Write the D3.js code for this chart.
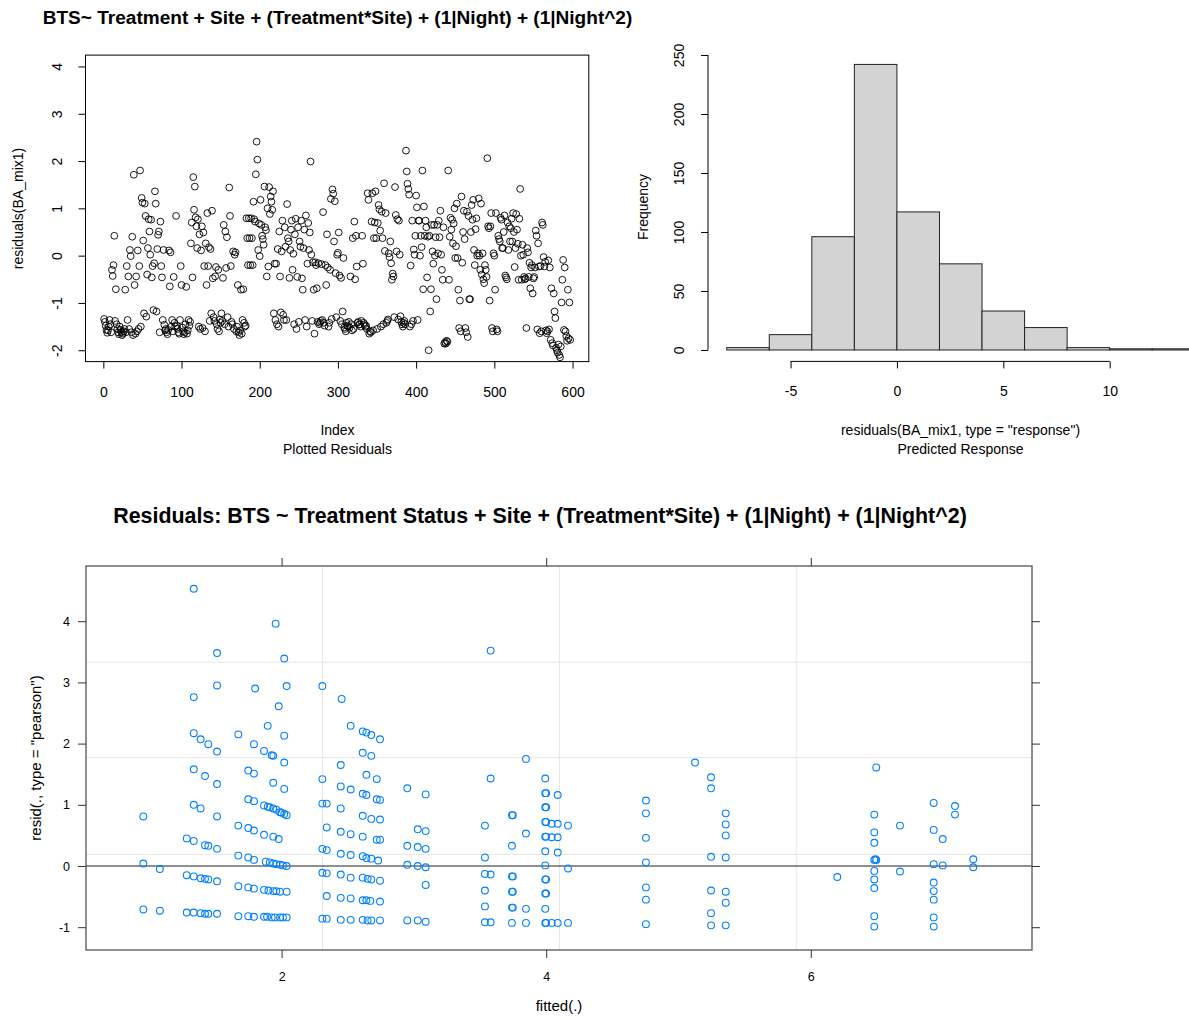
<!DOCTYPE html>
<html><head><meta charset="utf-8">
<script src="https://cdn.jsdelivr.net/npm/d3@7"></script>
<style>
body{margin:0;background:#fff}
svg{display:block}
text{font-family:"Liberation Sans",Arial,sans-serif;fill:#000}
</style>
</head><body>
<svg id="c" width="1189" height="1019"></svg>
<script>
// ---------- DATA ----------
const indexResiduals = [
-1.34,-1.4,-1.48,-1.57,-1.63,-1.58,-1.5,-1.36,-1.45,-1.62,
-0.3,-0.43,-0.2,0.42,-1.38,-0.71,-1.45,-1.55,-1.62,-1.66,
-1.5,-1.57,-1.62,-1.68,-1.65,-1.6,-1.55,-0.72,-1.62,-0.22,
-1.36,-0.44,-1.55,0.12,-0.01,-1.62,0.40,-1.68,1.71,-0.62,
-1.65,-0.44,-1.6,0.11,-1.55,-0.22,1.80,-1.5,1.22,1.12,
0.32,-1.22,1.10,0.84,-1.29,-0.40,0.16,0.77,0.51,0.02,
0.76,-0.46,-0.22,-1.15,-0.16,1.36,1.10,-1.18,0.14,0.44,
0.51,-1.62,0.72,-0.22,-0.46,-1.36,0.12,-1.46,-1.58,-1.55,
-1.62,-1.66,-1.57,0.11,-0.65,0.07,-1.5,-1.36,-1.6,-0.45,
-1.42,-1.5,0.84,-1.48,-1.55,-1.62,-1.65,-1.36,-0.22,-0.62,
-1.52,-1.6,-1.66,-1.62,-1.45,-0.66,-1.65,-1.58,-1.36,-1.48,
-1.4,0.26,0.70,-0.46,1.66,0.97,1.46,0.81,0.62,0.16,
0.77,-1.5,0.45,-1.55,0.11,0.62,-1.53,0.49,-0.22,-1.6,
0.26,-0.62,0.9,-0.22,0.18,-1.38,0.14,-1.22,0.95,-0.48,
-1.3,-1.38,-0.44,-0.24,-1.45,-1.55,-0.3,-1.6,-1.35,-1.42,
-1.22,-1.38,-0.47,0.65,-1.45,0.51,-0.26,0.39,-1.3,-1.5,
1.44,0.84,-0.22,-1.4,-1.45,0.09,-1.55,0.02,0.07,-1.6,
-1.5,-0.62,-1.62,-1.68,-1.58,-0.72,-1.65,-1.36,-0.71,-1.42,
-1.5,-1.48,0.79,0.37,-0.2,0.79,0.37,-0.2,0.79,0.37,
-0.2,1.14,0.77,0.72,1.72,2.41,2.03,0.12,0.68,-0.01,
1.18,0.65,0.42,0.35,0.23,1.46,0.6,0.54,-0.44,1.0,
-0.23,1.45,0.88,1.25,1.14,0.97,1.36,-1.22,-0.17,-1.36,
-0.17,-1.45,0.14,-1.5,0.51,-0.44,-1.2,0.09,0.74,-1.25,
-1.36,0.6,0.19,-1.36,1.09,0.37,0.30,-0.47,0.12,0.55,
0.74,-0.3,0.04,-1.45,0.45,0.78,-1.55,-0.45,0.6,-1.4,
0.3,0.19,0.74,-0.48,-0.72,0.16,0.55,-1.36,0.85,-1.5,
-0.17,0.69,0.12,0.49,1.99,0.02,-1.38,-0.14,-0.72,-1.65,
-0.14,-0.2,-0.69,-1.4,-0.16,-1.45,-1.42,-1.38,-0.18,-1.36,
0.92,-1.42,-1.48,-0.2,-0.62,0.45,-0.25,-1.5,-1.42,-0.3,
1.2,-1.34,1.40,1.31,0.30,1.15,-0.37,-1.3,0.02,0.06,
0.49,-0.42,-1.38,-0.47,-1.45,-1.18,-0.05,-1.52,-1.55,-1.6,
-1.42,-1.48,-1.5,-1.4,-1.52,-0.44,-1.45,-1.58,0.37,-1.55,
0.72,-0.5,0.42,-0.23,-1.42,-1.4,-1.46,-1.45,-1.5,-1.38,
0.42,-0.17,-1.42,-1.45,-1.5,-1.48,-1.55,1.32,1.18,-1.65,
-1.6,-1.62,0.72,1.32,-1.58,0.37,0.70,1.36,0.37,-1.55,
0.69,1.07,0.98,0.53,-1.5,0.93,0.37,-1.45,1.53,0.10,
0.9,-1.42,-1.38,-1.35,0.05,-0.03,0.30,-0.16,-0.51,-0.38,
-0.44,-1.3,1.45,0.86,0.09,0.77,-1.35,0.74,0.02,-1.28,
-1.4,-1.45,-1.5,-1.42,-1.38,-1.45,2.22,1.78,1.52,1.41,
1.29,-1.5,-0.21,-1.45,0.74,-1.38,0.13,0.02,0.42,1.27,
1.02,-1.36,0.74,0.74,0.0,0.42,0.18,1.80,-0.71,1.04,
0.42,0.74,0.6,-0.46,0.4,-2.0,0.42,-1.18,-0.71,0.65,
0.09,-0.17,0.65,0.0,0.39,-0.92,0.65,0.05,0.74,0.39,
0.95,0.02,-0.3,-0.51,0.6,-1.86,-1.83,-1.86,-1.8,-1.82,
1.80,-0.51,0.4,0.8,0.55,0.76,0.26,0.68,1.0,-0.05,
0.2,1.1,-0.05,-0.72,-1.53,-0.95,-1.6,1.25,-0.15,0.5,
0.95,0.35,-1.53,-1.62,0.93,-1.72,0.84,-0.92,-0.92,0.5,
1.07,0.76,1.18,0.12,-0.2,0.56,0.79,0.0,0.05,1.21,
0.0,-0.3,1.1,-0.4,0.05,-0.5,-0.58,-0.2,-0.3,-0.45,
2.06,0.62,0.58,-0.95,0.62,0.90,-1.53,-1.6,0.05,0.0,
-0.72,0.9,-1.56,-1.6,0.42,0.35,0.3,0.8,0.76,0.16,
0.16,0.5,0.85,-0.42,-0.46,-0.5,0.7,0.12,0.62,0.3,
0.58,0.78,0.3,0.9,0.5,-0.24,0.16,0.88,0.55,0.25,
-0.51,0.78,1.41,0.0,-0.51,0.23,0.02,-0.45,-0.5,-0.48,
-1.53,0.16,0.07,-0.45,-0.15,-0.69,-0.25,-0.2,-0.8,-0.48,
-0.45,-0.25,0.53,0.42,-1.56,0.26,-0.23,-1.64,-0.22,-1.6,
0.70,0.65,-0.03,-0.23,-0.13,-1.58,-1.64,-1.6,-0.1,-1.56,
-0.25,-1.78,-0.69,-1.85,-1.9,-0.8,-1.18,-1.32,-1.95,-2.0,
-2.05,-1.88,-2.1,-2.15,-1.92,-0.99,-0.51,-0.09,-1.57,-0.25,
-1.6,-1.7,-1.8,-0.72,-1.75,-0.99,-1.78
];
const indexXTicks = [0,100,200,300,400,500,600];
const indexYTicks = [-2,-1,0,1,2,3,4];

const histBreaks = [-8,-6,-4,-2,0,2,4,6,8,10,12,14];
const histCounts = [2,13,96,242,117,73,33,19,2,1,1];
const histXTicks = [-5,0,5,10];
const histYTicks = [0,50,100,150,200,250];

// [fitted, pearson residual]
const pearsonPoints = [
[0.955,0.81],[0.955,0.04],[0.955,-0.71],
[1.08,-0.05],[1.08,-0.73],
[1.336,4.53],[1.336,2.76],[1.512,3.48],[1.512,2.95],
[1.336,2.17],[1.388,2.07],[1.446,1.99],[1.512,1.87],
[1.336,1.58],[1.421,1.47],[1.512,1.34],
[1.336,1.00],[1.388,0.94],[1.512,0.81],
[1.283,0.45],[1.336,0.41],[1.421,0.34],[1.446,0.33],[1.512,0.28],
[1.283,-0.15],[1.336,-0.17],[1.388,-0.20],[1.421,-0.21],[1.446,-0.22],[1.512,-0.25],
[1.283,-0.76],[1.336,-0.76],[1.388,-0.77],[1.421,-0.78],[1.446,-0.78],[1.512,-0.78],
[1.673,2.15],[1.791,1.99],[1.867,1.88],[1.925,1.81],[1.937,1.80],[2.020,1.69],
[1.895,2.29],[1.978,2.61],[2.020,2.13],[2.038,2.94],[2.020,3.39],[1.955,3.96],[1.800,2.90],
[1.748,1.56],[1.791,1.51],[1.937,1.36],[2.020,1.26],
[1.748,1.09],[1.791,1.06],[1.867,0.99],[1.895,0.97],[1.910,0.96],[1.937,0.94],[1.960,0.92],[1.988,0.88],[2.000,0.87],[2.020,0.85],[2.038,0.83],
[1.673,0.66],[1.748,0.62],[1.791,0.58],[1.867,0.51],[1.937,0.48],[1.978,0.44],
[1.673,0.17],[1.748,0.14],[1.791,0.10],[1.880,0.07],[1.910,0.06],[1.937,0.04],[1.960,0.03],[1.988,0.02],[2.010,0.01],[2.038,0.00],
[1.673,-0.33],[1.748,-0.35],[1.791,-0.37],[1.867,-0.39],[1.900,-0.40],[1.937,-0.41],[1.960,-0.41],[1.988,-0.42],[2.038,-0.42],
[1.673,-0.82],[1.748,-0.82],[1.791,-0.83],[1.867,-0.83],[1.890,-0.83],[1.925,-0.84],[1.950,-0.84],[1.988,-0.84],[2.010,-0.84],[2.038,-0.84],
[2.308,2.94],[2.454,2.73],[2.522,2.29],[2.613,2.20],[2.641,2.18],[2.678,2.14],[2.744,2.07],
[2.447,1.65],[2.613,1.85],[2.678,1.80],
[2.308,1.42],[2.447,1.30],[2.522,1.25],[2.641,1.49],[2.719,1.42],
[2.308,1.02],[2.341,1.02],[2.447,0.94],[2.613,1.18],[2.641,1.16],[2.719,1.09],[2.744,1.08],
[2.341,0.63],[2.447,0.56],[2.522,0.52],[2.613,0.82],[2.678,0.77],[2.744,0.76],
[2.613,0.48],[2.719,0.43],[2.744,0.43],
[2.308,0.28],[2.341,0.26],[2.447,0.20],[2.522,0.18],[2.613,0.16],[2.641,0.13],[2.678,0.12],[2.730,0.09],
[2.308,-0.11],[2.341,-0.12],[2.447,-0.14],[2.522,-0.19],[2.613,-0.19],[2.650,-0.21],[2.678,-0.22],[2.744,-0.24],
[2.341,-0.49],[2.447,-0.52],[2.522,-0.53],[2.613,-0.56],[2.641,-0.56],[2.670,-0.57],[2.744,-0.58],
[2.308,-0.86],[2.341,-0.86],[2.447,-0.88],[2.522,-0.88],[2.613,-0.88],[2.650,-0.89],[2.678,-0.89],[2.744,-0.89],
[2.950,1.27],[3.089,1.17],[3.029,0.60],[3.089,0.57],[2.950,0.33],[3.029,0.31],[3.089,0.28],
[2.950,0.02],[3.029,0.00],[3.089,-0.02],[3.089,-0.31],[2.950,-0.89],[3.029,-0.89],[3.089,-0.91],
[3.580,3.52],[3.580,1.43],[3.537,0.66],[3.537,0.14],[3.537,-0.13],[3.580,-0.14],[3.537,-0.40],[3.537,-0.66],[3.537,-0.92],[3.580,-0.92],
[3.741,0.83],[3.748,0.83],[3.741,0.33],[3.741,-0.17],[3.748,-0.17],[3.741,-0.42],[3.748,-0.42],[3.741,-0.68],[3.748,-0.68],[3.741,-0.93],
[3.847,1.75],[3.847,0.53],[3.847,-0.70],[3.847,-0.93],
[3.993,1.43],[3.993,1.19],[3.999,1.19],[3.993,0.96],[3.999,0.96],[3.993,0.72],[3.999,0.72],[3.993,0.48],[3.999,0.48],
[3.993,0.24],[3.993,0.01],[3.993,-0.22],[3.999,-0.22],[3.993,-0.45],[3.999,-0.45],[3.993,-0.70],[3.993,-0.93],[3.999,-0.93],
[4.041,0.69],[4.087,0.69],[4.041,0.47],[4.087,0.47],[4.087,1.16],[4.087,0.22],[4.041,-0.93],[4.087,-0.93],
[4.165,0.66],[4.165,-0.04],[4.165,-0.93],
[4.754,1.07],[4.754,0.86],[4.754,0.46],[4.754,0.06],[4.754,-0.35],[4.754,-0.55],[4.754,-0.95],
[5.125,1.69],
[5.246,1.45],[5.246,1.27],[5.246,0.15],[5.246,-0.40],[5.246,-0.77],[5.246,-0.97],
[5.357,0.86],[5.357,0.68],[5.357,0.50],[5.357,0.14],[5.357,-0.42],[5.357,-0.60],[5.357,-0.97],
[6.200,-0.18],
[6.495,1.61],[6.480,0.84],[6.480,0.55],[6.480,0.38],[6.480,0.10],[6.495,0.10],[6.488,0.11],[6.480,-0.08],[6.480,-0.22],[6.480,-0.36],[6.480,-0.82],[6.480,-0.99],
[6.674,0.66],[6.674,-0.09],
[6.929,1.03],[6.929,0.59],[6.997,0.44],[6.929,0.03],[6.997,0.01],[6.929,-0.27],[6.929,-0.41],[6.929,-0.55],[6.929,-0.84],[6.929,-0.99],
[7.090,0.98],[7.090,0.84],
[7.228,0.11],[7.228,-0.02]
];
const fittedTicks = [2,4,6];
const pearsonTicks = [-1,0,1,2,3,4];
const gridFitted = [2.31,4.10,5.89];
const gridPearson = [3.33,1.77,0.19];

// ---------- DRAW ----------
const svg = d3.select("#c");
const FS = 14;
const plainFmt = d => String(d);   // ASCII hyphen-minus like R

function fitText(sel, target){
  const node = sel.node();
  const w = node.getComputedTextLength();
  const fs = parseFloat(sel.attr("font-size"));
  sel.attr("font-size", (fs*target/w).toFixed(2));
}
function rotLabels(g, off){
  g.selectAll(".tick text")
    .attr("x",0).attr("y",-off).attr("dy","0.36em")
    .attr("text-anchor","middle")
    .attr("transform","rotate(-90)");
}

// ===== Panel 1: index plot =====
const x1 = d3.scaleLinear().domain([-22.8,620.8]).range([85.5,588.8]);
const y1 = d3.scaleLinear().domain([-2.24,4.24]).range([361.6,55.1]);

svg.append("rect").attr("x",x1.range()[0]).attr("y",y1.range()[1])
  .attr("width",x1.range()[1]-x1.range()[0]).attr("height",y1.range()[0]-y1.range()[1])
  .attr("fill","none").attr("stroke","#000").attr("stroke-width",1);

const gx1 = svg.append("g").attr("transform",`translate(0,${y1.range()[0]})`)
  .call(d3.axisBottom(x1).tickValues(indexXTicks).tickSize(7).tickPadding(18).tickFormat(plainFmt));
gx1.select(".domain").remove();
gx1.selectAll("text").attr("font-size",FS).attr("font-family",null);
const gy1 = svg.append("g").attr("transform",`translate(${x1.range()[0]},0)`)
  .call(d3.axisLeft(y1).tickValues(indexYTicks).tickSize(7).tickFormat(plainFmt));
gy1.select(".domain").remove();
gy1.selectAll("text").attr("font-size",FS).attr("font-family",null);
rotLabels(gy1, 29);

svg.append("g").selectAll("circle").data(indexResiduals).join("circle")
  .attr("cx",(d,i)=>x1(i+1)).attr("cy",d=>y1(d)).attr("r",3.4)
  .attr("fill","none").attr("stroke","#000").attr("stroke-width",0.9);

svg.append("text").attr("x",337.5).attr("y",430).attr("text-anchor","middle")
  .attr("dominant-baseline","central").attr("font-size",FS).text("Index");
svg.append("text").attr("x",337.5).attr("y",449).attr("text-anchor","middle")
  .attr("dominant-baseline","central").attr("font-size",FS).text("Plotted Residuals");
svg.append("text").attr("transform","translate(18,208.5) rotate(-90)").attr("text-anchor","middle")
  .attr("dominant-baseline","central").attr("font-size",FS).text("residuals(BA_mix1)");
const t1 = svg.append("text").attr("x",337.5).attr("y",17).attr("text-anchor","middle")
  .attr("dominant-baseline","central").attr("font-size",17).attr("font-weight","bold")
  .text("BTS~ Treatment + Site + (Treatment*Site) + (1|Night) + (1|Night^2)");
fitText(t1, 590);

// ===== Panel 2: histogram =====
const x2 = d3.scaleLinear().domain([-8.88,14.88]).range([708,1213.5]);
const y2 = d3.scaleLinear().domain([-9.68,251.68]).range([361.4,53]);
const bins = histCounts.map((c,i)=>({x0:histBreaks[i],x1:histBreaks[i+1],n:c}));
svg.append("g").selectAll("rect").data(bins).join("rect")
  .attr("x",d=>x2(d.x0)).attr("width",d=>x2(d.x1)-x2(d.x0))
  .attr("y",d=>y2(d.n)).attr("height",d=>y2(0)-y2(d.n))
  .attr("fill","#d3d3d3").attr("stroke","#222").attr("stroke-width",1);

const gx2 = svg.append("g").attr("transform",`translate(0,${y2.range()[0]})`)
  .call(d3.axisBottom(x2).tickValues(histXTicks).tickSize(7).tickPadding(18).tickFormat(plainFmt));
gx2.select(".domain").remove();
gx2.append("line").attr("x1",x2(histXTicks[0])).attr("x2",x2(histXTicks[histXTicks.length-1]))
  .attr("stroke","#000");
gx2.selectAll("text").attr("font-size",FS).attr("font-family",null);
const gy2 = svg.append("g").attr("transform",`translate(${x2.range()[0]},0)`)
  .call(d3.axisLeft(y2).tickValues(histYTicks).tickSize(7).tickFormat(plainFmt));
gy2.select(".domain").remove();
gy2.append("line").attr("y1",y2(histYTicks[0])).attr("y2",y2(histYTicks[histYTicks.length-1]))
  .attr("stroke","#000");
gy2.selectAll("text").attr("font-size",FS).attr("font-family",null);
rotLabels(gy2, 29);

svg.append("text").attr("x",960.5).attr("y",430).attr("text-anchor","middle")
  .attr("dominant-baseline","central").attr("font-size",FS).text('residuals(BA_mix1, type = "response")');
svg.append("text").attr("x",960.5).attr("y",449).attr("text-anchor","middle")
  .attr("dominant-baseline","central").attr("font-size",FS).text("Predicted Response");
svg.append("text").attr("transform","translate(643,207) rotate(-90)").attr("text-anchor","middle")
  .attr("dominant-baseline","central").attr("font-size",FS).text("Frequency");

// ===== Panel 3: lattice residual plot =====
const x3 = d3.scaleLinear().domain([0.5215,7.672]).range([86,1032]);
const y3 = d3.scaleLinear().domain([-1.3725,4.902]).range([950,566]);
const p3 = svg.append("g");
p3.selectAll(".gv").data(gridFitted).join("line").attr("class","gv")
  .attr("x1",d=>x3(d)).attr("x2",d=>x3(d)).attr("y1",y3.range()[0]).attr("y2",y3.range()[1])
  .attr("stroke","#e6e6e6").attr("stroke-width",1);
p3.selectAll(".gh").data(gridPearson).join("line").attr("class","gh")
  .attr("y1",d=>y3(d)).attr("y2",d=>y3(d)).attr("x1",x3.range()[0]).attr("x2",x3.range()[1])
  .attr("stroke","#e6e6e6").attr("stroke-width",1);
p3.append("line").attr("x1",x3.range()[0]).attr("x2",x3.range()[1])
  .attr("y1",y3(0)).attr("y2",y3(0)).attr("stroke","#222").attr("stroke-width",1.1);
p3.selectAll("circle").data(pearsonPoints).join("circle")
  .attr("cx",d=>x3(d[0])).attr("cy",d=>y3(d[1])).attr("r",3.4)
  .attr("fill","none").attr("stroke","#0080ff").attr("stroke-width",1.1);
svg.append("rect").attr("x",86).attr("y",566).attr("width",1032-86).attr("height",950-566)
  .attr("fill","none").attr("stroke","#555").attr("stroke-width",1.3);

const ax3b = svg.append("g").attr("transform",`translate(0,950)`)
  .call(d3.axisBottom(x3).tickValues(fittedTicks).tickSize(8).tickPadding(14).tickFormat(plainFmt));
const ax3t = svg.append("g").attr("transform",`translate(0,566)`)
  .call(d3.axisTop(x3).tickValues(fittedTicks).tickSize(8).tickFormat(""));
const ax3l = svg.append("g").attr("transform",`translate(86,0)`)
  .call(d3.axisLeft(y3).tickValues(pearsonTicks).tickSize(8).tickPadding(8).tickFormat(plainFmt));
const ax3r = svg.append("g").attr("transform",`translate(1032,0)`)
  .call(d3.axisRight(y3).tickValues(pearsonTicks).tickSize(8).tickFormat(""));
[ax3b,ax3t,ax3l,ax3r].forEach(g=>{
  g.select(".domain").remove();
  g.selectAll("line").attr("stroke","#333");
  g.selectAll("text").attr("font-size",12.5).attr("font-family",null);
});

svg.append("text").attr("x",559).attr("y",1005).attr("text-anchor","middle")
  .attr("dominant-baseline","central").attr("font-size",15).text("fitted(.)");
svg.append("text").attr("transform","translate(35,758) rotate(-90)").attr("text-anchor","middle")
  .attr("dominant-baseline","central").attr("font-size",15).text('resid(., type = "pearson")');
const t3 = svg.append("text").attr("x",540).attr("y",516).attr("text-anchor","middle")
  .attr("dominant-baseline","central").attr("font-size",19).attr("font-weight","bold")
  .text("Residuals: BTS ~ Treatment Status + Site + (Treatment*Site) + (1|Night) + (1|Night^2)");
fitText(t3, 854);
</script>
</body></html>
